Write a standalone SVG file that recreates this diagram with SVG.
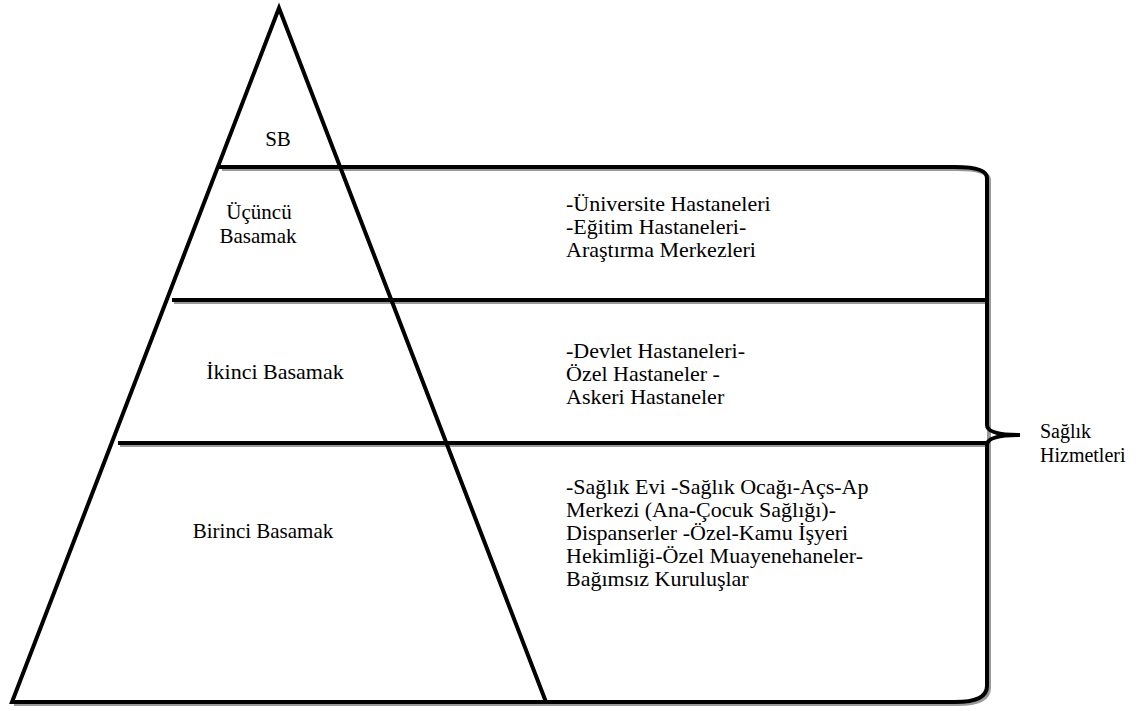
<svg xmlns="http://www.w3.org/2000/svg" width="1142" height="711" viewBox="0 0 1142 711">
<style>
.ln{stroke:#000;stroke-width:4;fill:none}
.sh{stroke:#999;stroke-width:4;fill:none}
</style>
<rect width="1142" height="711" fill="#fff"/>
<g id="connectors">
<line class="sh" x1="222" y1="169" x2="957" y2="169"/>
<line class="sh" x1="174" y1="302" x2="987" y2="302"/>
<line class="sh" x1="120" y1="445" x2="987" y2="445"/>
<line class="sh" x1="14" y1="704" x2="957" y2="704"/>
<line class="ln" x1="219" y1="167" x2="955" y2="167"/>
<line class="ln" x1="172" y1="300" x2="987" y2="300"/>
<line class="ln" x1="118" y1="443" x2="987" y2="443"/>
<line class="ln" x1="12" y1="702" x2="955" y2="702"/>
</g>
<g id="pyramid">
<polygon points="279,8 12,702 546,702" fill="none" stroke="#000" stroke-width="4" stroke-linejoin="miter"/>
</g>
<g id="brace">
<path class="sh" d="M957,169 Q989,169 989,180 L989,688 Q989,704 957,704"/>
<path class="ln" d="M955,167 Q987,167 987,178 L987,425 Q987,435 1020,435 Q987,435 987,445 L987,686 Q987,702 955,702"/>
</g>
<g font-family="Liberation Serif" font-size="21" fill="#000">
<g id="node-sb"><text x="278" y="146" text-anchor="middle">SB</text></g>
<g id="node-ucuncu"><text x="259" y="219" text-anchor="middle">Üçüncü</text><text x="258" y="243" text-anchor="middle">Basamak</text></g>
<g id="node-ikinci"><text x="275" y="379" text-anchor="middle" font-size="22">İkinci Basamak</text></g>
<g id="node-birinci"><text x="263" y="538" text-anchor="middle">Birinci Basamak</text></g>
<g font-size="22">
<g id="desc-ucuncu">
<text x="566" y="211">-Üniversite Hastaneleri</text>
<text x="566" y="234">-Eğitim Hastaneleri-</text>
<text x="566" y="257">Araştırma Merkezleri</text>
</g>
<g id="desc-ikinci">
<text x="566" y="358">-Devlet Hastaneleri-</text>
<text x="566" y="381">Özel Hastaneler -</text>
<text x="566" y="404">Askeri Hastaneler</text>
</g>
<g id="desc-birinci">
<text x="566" y="494">-Sağlık Evi -Sağlık Ocağı-Açs-Ap</text>
<text x="566" y="517">Merkezi (Ana-Çocuk Sağlığı)-</text>
<text x="566" y="540">Dispanserler -Özel-Kamu İşyeri</text>
<text x="566" y="563">Hekimliği-Özel Muayenehaneler-</text>
<text x="566" y="586">Bağımsız Kuruluşlar</text>
</g>
</g>
<g id="label-saglik" font-size="20">
<text x="1040" y="438">Sağlık</text>
<text x="1040" y="462">Hizmetleri</text>
</g>
</g>
</svg>
